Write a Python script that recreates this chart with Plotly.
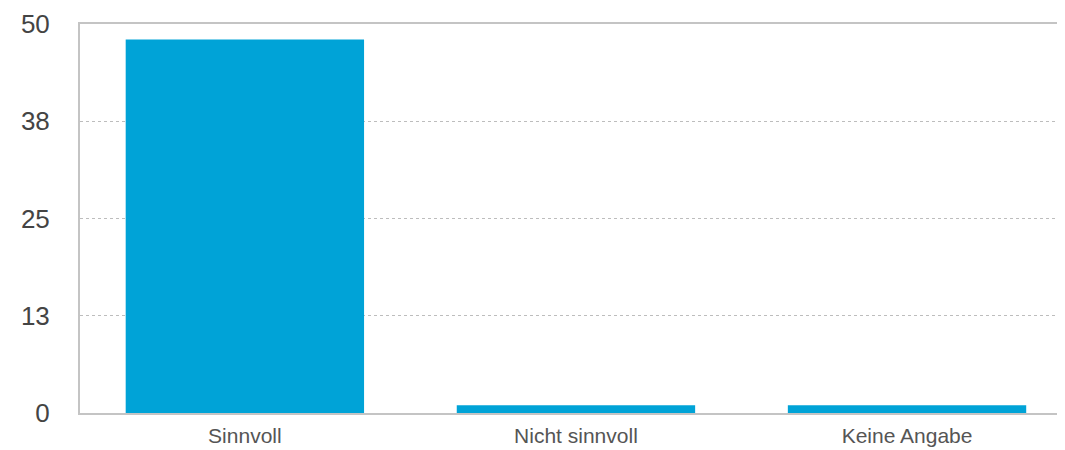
import plotly.graph_objects as go

categories = ["Sinnvoll", "Nicht sinnvoll", "Keine Angabe"]
values = [48, 1, 1]
y_tickvals = [0, 12.5, 25, 37.5, 50]
y_ticktext = ["0", "13", "25", "38", "50"]

fig = go.Figure(go.Bar(
    x=categories, y=values,
    marker=dict(color="#00A3D7", line=dict(width=0)),
    width=0.72,
))

fig.update_layout(
    width=1049, height=442,
    margin=dict(l=72, r=0, t=16, b=37, autoexpand=False),
    paper_bgcolor="white", plot_bgcolor="white",
    showlegend=False,
    font=dict(family="Liberation Sans, Arial, sans-serif", color="#444"),
)
fig.update_xaxes(
    type="category", range=[-0.498, 2.453],
    showline=True, linecolor="#c4c4c4", linewidth=2, mirror=True,
    showgrid=False, ticks="", automargin=False,
    tickfont=dict(size=21, color="#555"),
    ticklabelstandoff=3,
)
fig.update_yaxes(
    range=[0, 50],
    tickvals=y_tickvals, ticktext=y_ticktext,
    showline=True, linecolor="#c4c4c4", linewidth=2, mirror=False,
    showgrid=True, gridcolor="#bdbdbd", griddash="dot", gridwidth=1,
    zeroline=False, ticks="", automargin=False,
    tickfont=dict(size=26, color="#444"),
    ticklabelstandoff=23,
)

fig.write_html("out.html")
